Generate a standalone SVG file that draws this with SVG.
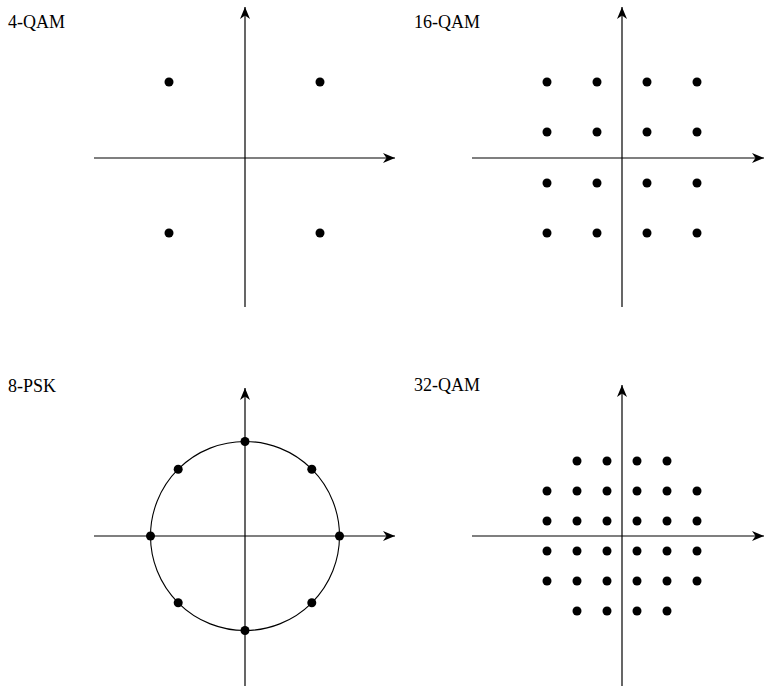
<svg xmlns="http://www.w3.org/2000/svg" width="765" height="687" viewBox="0 0 765 687">
<style>
.ax{stroke:#000;stroke-width:1.2;fill:none;marker-end:url(#arr)}
.d{fill:#000}
.lbl{font-size:18px;fill:#000}
.circ{fill:none;stroke:#000;stroke-width:1.1}
</style>
<defs>
<marker id="arr" markerUnits="userSpaceOnUse" markerWidth="16" markerHeight="14" viewBox="-14 -7 16 14" refX="0" refY="0" orient="auto">
<path d="M0,0 L-12,-5 L-8.5,0 L-12,5 Z" fill="#000"/>
</marker>
</defs>
<rect width="765" height="687" fill="#fff"/>
<g id="connectors">
<line class="ax" x1="94" y1="158" x2="395" y2="158"/>
<line class="ax" x1="245" y1="307" x2="245" y2="7"/>
<line class="ax" x1="472" y1="158" x2="764" y2="158"/>
<line class="ax" x1="622" y1="307" x2="622" y2="7"/>
<line class="ax" x1="94" y1="536" x2="395" y2="536"/>
<line class="ax" x1="245" y1="686" x2="245" y2="388"/>
<line class="ax" x1="472" y1="536" x2="764" y2="536"/>
<line class="ax" x1="622" y1="686" x2="622" y2="385"/>
</g>
<g id="qam4">
<text class="lbl" font-family="'Liberation Serif', 'DejaVu Serif', serif" x="8" y="28">4-QAM</text>
<circle class="d" cx="169" cy="82" r="4.5"/>
<circle class="d" cx="320" cy="82" r="4.5"/>
<circle class="d" cx="169" cy="233" r="4.5"/>
<circle class="d" cx="320" cy="233" r="4.5"/>
</g>
<g id="qam16">
<text class="lbl" font-family="'Liberation Serif', 'DejaVu Serif', serif" x="414" y="28">16-QAM</text>
<circle class="d" cx="547" cy="82" r="4.5"/><circle class="d" cx="597" cy="82" r="4.5"/><circle class="d" cx="647" cy="82" r="4.5"/><circle class="d" cx="697" cy="82" r="4.5"/>
<circle class="d" cx="547" cy="132" r="4.5"/><circle class="d" cx="597" cy="132" r="4.5"/><circle class="d" cx="647" cy="132" r="4.5"/><circle class="d" cx="697" cy="132" r="4.5"/>
<circle class="d" cx="547" cy="183" r="4.5"/><circle class="d" cx="597" cy="183" r="4.5"/><circle class="d" cx="647" cy="183" r="4.5"/><circle class="d" cx="697" cy="183" r="4.5"/>
<circle class="d" cx="547" cy="233" r="4.5"/><circle class="d" cx="597" cy="233" r="4.5"/><circle class="d" cx="647" cy="233" r="4.5"/><circle class="d" cx="697" cy="233" r="4.5"/>
</g>
<g id="psk8">
<text class="lbl" font-family="'Liberation Serif', 'DejaVu Serif', serif" x="8" y="392">8-PSK</text>
<circle class="circ" cx="245" cy="536" r="94.5"/>
<circle class="d" cx="245" cy="441.5" r="4.5"/>
<circle class="d" cx="245" cy="630.5" r="4.5"/>
<circle class="d" cx="150.5" cy="536" r="4.5"/>
<circle class="d" cx="339.5" cy="536" r="4.5"/>
<circle class="d" cx="178.2" cy="469.2" r="4.5"/>
<circle class="d" cx="311.8" cy="469.2" r="4.5"/>
<circle class="d" cx="178.2" cy="602.8" r="4.5"/>
<circle class="d" cx="311.8" cy="602.8" r="4.5"/>
</g>
<g id="qam32">
<text class="lbl" font-family="'Liberation Serif', 'DejaVu Serif', serif" x="414" y="391">32-QAM</text>
<circle class="d" cx="577" cy="461" r="4.5"/><circle class="d" cx="607" cy="461" r="4.5"/><circle class="d" cx="637" cy="461" r="4.5"/><circle class="d" cx="667" cy="461" r="4.5"/>
<circle class="d" cx="547" cy="491" r="4.5"/><circle class="d" cx="577" cy="491" r="4.5"/><circle class="d" cx="607" cy="491" r="4.5"/><circle class="d" cx="637" cy="491" r="4.5"/><circle class="d" cx="667" cy="491" r="4.5"/><circle class="d" cx="697" cy="491" r="4.5"/>
<circle class="d" cx="547" cy="521" r="4.5"/><circle class="d" cx="577" cy="521" r="4.5"/><circle class="d" cx="607" cy="521" r="4.5"/><circle class="d" cx="637" cy="521" r="4.5"/><circle class="d" cx="667" cy="521" r="4.5"/><circle class="d" cx="697" cy="521" r="4.5"/>
<circle class="d" cx="547" cy="551" r="4.5"/><circle class="d" cx="577" cy="551" r="4.5"/><circle class="d" cx="607" cy="551" r="4.5"/><circle class="d" cx="637" cy="551" r="4.5"/><circle class="d" cx="667" cy="551" r="4.5"/><circle class="d" cx="697" cy="551" r="4.5"/>
<circle class="d" cx="547" cy="581" r="4.5"/><circle class="d" cx="577" cy="581" r="4.5"/><circle class="d" cx="607" cy="581" r="4.5"/><circle class="d" cx="637" cy="581" r="4.5"/><circle class="d" cx="667" cy="581" r="4.5"/><circle class="d" cx="697" cy="581" r="4.5"/>
<circle class="d" cx="577" cy="611" r="4.5"/><circle class="d" cx="607" cy="611" r="4.5"/><circle class="d" cx="637" cy="611" r="4.5"/><circle class="d" cx="667" cy="611" r="4.5"/>
</g>
</svg>
